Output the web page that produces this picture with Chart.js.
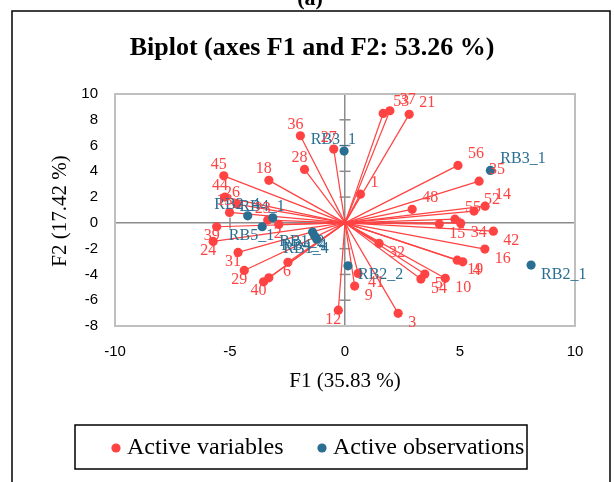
<!DOCTYPE html>
<html>
<head>
<meta charset="utf-8">
<script src="https://cdn.jsdelivr.net/npm/chart.js@4.4.1/dist/chart.umd.min.js"></script>
<style>
html,body{margin:0;padding:0;background:#fff;}
canvas{display:block;}
</style>
</head>
<body>
<canvas id="c" width="614" height="482"></canvas>
<script>
// ---- data ----
const varLabels = ["36","27","28","45","18","44","26","13","23","2","39","24","31","29","40","","6","12","1","53","37","21","56","35","14","52","55","48","15","34","42","16","19","4","32","54","5","10","41","9","3"];
const varX = [-1.94,-0.49,-1.76,-5.27,-3.31,-5.22,-4.70,-5.02,-3.36,-2.88,-5.58,-5.73,-4.65,-4.38,-3.54,-3.31,-2.48,-0.29,0.67,1.66,1.95,2.79,4.91,5.83,6.09,5.61,4.78,2.92,4.10,5.03,6.45,6.08,4.88,5.12,1.48,3.30,3.47,4.36,0.57,0.42,2.31];
const varY = [6.76,5.73,4.15,3.65,3.30,2.00,1.46,0.81,0.22,-0.12,-0.30,-1.44,-2.29,-3.69,-4.57,-4.26,-3.06,-6.77,2.23,8.49,8.70,8.42,4.46,3.24,1.30,0.92,0.29,1.05,-0.09,-0.02,-0.64,-2.03,-2.89,-3.02,-1.59,-4.36,-3.97,-4.30,-3.92,-4.90,-7.02];

const obsLabels = ["RB3_1","RB3_1","RB2_1","RB2_2","RB2_4","RB4_1","RB5_1","RB1_2","RB4_4","RB1_4"];
const obsX = [-0.04,6.32,8.09,0.13,-4.23,-3.14,-3.60,-1.41,-1.32,-1.23];
const obsY = [5.57,4.07,-3.27,-3.33,0.55,0.40,-0.30,-0.71,-1.02,-1.26];

const xTicks = [-10,-5,0,5,10];
const yTicks = [-8,-6,-4,-2,0,2,4,6,8,10];

const title = "Biplot (axes F1 and F2: 53.26 %)";
const xTitle = "F1 (35.83 %)";
const yTitle = "F2 (17.42 %)";
const legendNames = ["Active variables","Active observations"];

// ---- styles ----
const RED = "rgb(255,66,66)";
const BLUE = "rgb(42,110,145)";
const SERIF = "'Liberation Serif','Times New Roman',serif";
const SANS = "'Liberation Sans',Arial,sans-serif";

const lineSets = varX.map((x,i)=>({
  type:'scatter',
  data:[{x:0,y:0},{x:x,y:varY[i]}],
  showLine:true,
  borderColor:RED,
  borderWidth:1.2,
  pointRadius:0,
  pointHoverRadius:0,
  order:3
}));

const varPts = {
  label:legendNames[0],
  data:varX.map((x,i)=>({x:x,y:varY[i]})),
  backgroundColor:RED, borderColor:RED,
  pointRadius:4.6, pointBorderWidth:0,
  order:2, _labels:varLabels, _color:RED, _leftOff:3
};
const obsPts = {
  label:legendNames[1],
  data:obsX.map((x,i)=>({x:x,y:obsY[i]})),
  backgroundColor:BLUE, borderColor:BLUE,
  pointRadius:4.6, pointBorderWidth:0,
  order:1, _labels:obsLabels, _color:BLUE, _leftOff:12
};

const decor = {
  id:'decor',
  beforeDraw(chart){
    const c = chart.ctx; 
    c.save();
    c.fillStyle='#fff'; c.fillRect(0,0,chart.width,chart.height);
    c.strokeStyle='#000'; c.lineWidth=1.5;
    c.strokeRect(12,11,598,490);
    c.fillStyle='#000'; c.font="bold 22px "+SERIF; c.textAlign='center'; c.textBaseline='alphabetic';
    c.fillText("(a)",310,5);
    c.font="bold 26px "+SERIF; c.textBaseline='middle';
    c.fillText(title,312,48);
    c.restore();
  },
  beforeDatasetsDraw(chart){
    const c = chart.ctx;
    const xs = chart.scales.x, ys = chart.scales.y;
    c.save();
    c.strokeStyle='#8c8c8c'; c.lineWidth=1.5;
    const x0 = xs.getPixelForValue(0), y0 = ys.getPixelForValue(0);
    yTicks.forEach(v=>{ const p=ys.getPixelForValue(v); c.beginPath(); c.moveTo(x0-5.5,p); c.lineTo(x0+5.5,p); c.stroke(); });
    xTicks.forEach(v=>{ const p=xs.getPixelForValue(v); c.beginPath(); c.moveTo(p,y0-5.5); c.lineTo(p,y0+5.5); c.stroke(); });
    c.restore();
  },
  afterDatasetsDraw(chart){
    const c = chart.ctx, a = chart.chartArea;
    c.save();
    c.strokeStyle='#bfbfbf'; c.lineWidth=2;
    c.strokeRect(a.left,a.top,a.right-a.left,a.bottom-a.top);
    c.font="16px "+SERIF; c.textBaseline='alphabetic';
    chart.data.datasets.forEach((ds,di)=>{
      if(!ds._labels) return;
      const meta = chart.getDatasetMeta(di);
      c.fillStyle = ds._color;
      meta.data.forEach((el,i)=>{
        const v = ds.data[i];
        let tx, ty;
        if(v.x>=0){ c.textAlign='left'; tx=el.x+10; } else { c.textAlign='right'; tx=el.x+ds._leftOff; }
        ty = v.y>=0 ? el.y-7 : el.y+13.5;
        c.fillText(ds._labels[i],tx,ty);
      });
    });
    c.fillStyle='#000'; c.font="21px "+SERIF; c.textAlign='center'; c.textBaseline='middle';
    c.fillText(xTitle,(a.left+a.right)/2,381);
    c.save(); c.translate(60,211); c.rotate(-Math.PI/2); c.fillText(yTitle,0,0); c.restore();
    c.strokeStyle='#000'; c.lineWidth=1.5;
    c.strokeRect(75,425,452,44);
    c.font="24px "+SERIF; c.textAlign='left';
    c.fillStyle=RED; c.beginPath(); c.arc(116,448,4.6,0,Math.PI*2); c.fill();
    c.fillStyle='#000'; c.fillText(legendNames[0],127,448);
    c.fillStyle=BLUE; c.beginPath(); c.arc(322,448,4.6,0,Math.PI*2); c.fill();
    c.fillStyle='#000'; c.fillText(legendNames[1],333,448);
    c.restore();
  }
};

new Chart(document.getElementById('c'),{
  type:'scatter',
  data:{datasets:[obsPts,varPts].concat(lineSets)},
  options:{
    responsive:false, animation:false, devicePixelRatio:1,
    layout:{padding:{left:0,top:94,right:39,bottom:0}},
    plugins:{legend:{display:false},tooltip:{enabled:false},title:{display:false}},
    scales:{
      x:{type:'linear',min:-10,max:10,
        afterBuildTicks(s){ s.ticks = xTicks.map(v=>({value:v})); },
        afterFit(s){ s.height=156; },
        border:{display:false},
        grid:{drawTicks:false,color:c=>c.tick&&c.tick.value===0?'#8c8c8c':'rgba(0,0,0,0)',lineWidth:1.5},
        ticks:{padding:17,color:'#000',font:{family:SANS,size:15},maxRotation:0}
      },
      y:{type:'linear',min:-8,max:10,
        afterBuildTicks(s){ s.ticks = yTicks.map(v=>({value:v})); },
        afterFit(s){ s.width=115; },
        border:{display:false},
        grid:{drawTicks:false,color:c=>c.tick&&c.tick.value===0?'#8c8c8c':'rgba(0,0,0,0)',lineWidth:1.5},
        ticks:{padding:17,color:'#000',font:{family:SANS,size:15}}
      }
    }
  },
  plugins:[decor]
});
</script>
</body>
</html>
